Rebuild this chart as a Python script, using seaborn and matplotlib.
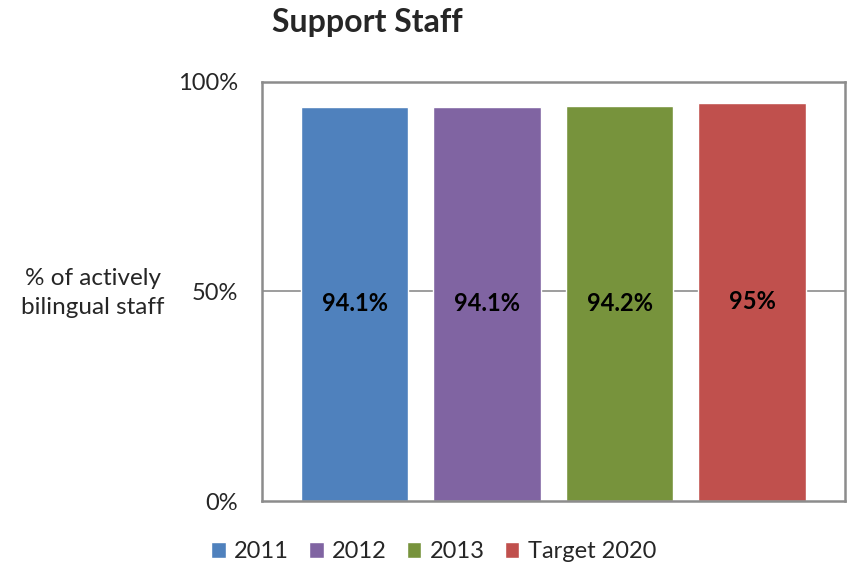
import matplotlib
matplotlib.use("Agg")
import matplotlib.pyplot as plt
import seaborn as sns
import pandas as pd

# =========================
# Data
# =========================
categories = ["2011", "2012", "2013", "Target 2020"]
values = [94.1, 94.1, 94.2, 95.0]
value_labels = ["94.1%", "94.1%", "94.2%", "95%"]
bar_colors = ["#4F81BD", "#8064A2", "#77933C", "#C0504D"]
y_ticks = [0, 50, 100]
y_tick_labels = ["0%", "50%", "100%"]

# =========================
# Style
# =========================
sns.set_theme(style="white")
plt.rcParams["font.family"] = ["Lato", "DejaVu Sans"]

df = pd.DataFrame({"year": categories, "pct": values})

fig = plt.figure(figsize=(8.5, 5.69), dpi=100)
ax = fig.add_axes([0.308, 0.1195, 0.686, 0.7365])

sns.barplot(data=df, x="year", y="pct", hue="year", palette=bar_colors,
            width=0.81, dodge=False, saturation=1, legend=True, ax=ax)

ax.set_xlim(-0.7, 3.7)
ax.set_ylim(0, 100)
ax.set_yticks(y_ticks)
ax.set_yticklabels(y_tick_labels, fontsize=17)
ax.set_xticks([])
ax.set_xlabel("")
ax.set_ylabel("")
ax.tick_params(axis="y", length=0, pad=17)

ax.axhline(50, color="#8c8c8c", linewidth=1.2, zorder=0)
for s in ax.spines.values():
    s.set_visible(True)
    s.set_color("#8c8c8c")
    s.set_linewidth(1.8)

# value labels in the middle of bars
for i, (v, lab) in enumerate(zip(values, value_labels)):
    ax.text(i, v / 2, lab, ha="center", va="center", fontsize=17,
            fontweight="bold", color="black")

fig.text(0.109, 0.485, "% of actively\nbilingual staff", ha="center",
         va="center", fontsize=17.5, linespacing=1.45)
fig.text(0.432, 0.961, "Support Staff", ha="center", va="center",
         fontsize=23, fontweight="bold")

sns.move_legend(ax, "center", bbox_to_anchor=(0.51, 0.03),
                bbox_transform=fig.transFigure, ncol=4, frameon=False,
                fontsize=17, title=None, handlelength=0.62, handleheight=0.62,
                handletextpad=0.35, columnspacing=0.85)

fig.savefig("out.png", dpi=100)
